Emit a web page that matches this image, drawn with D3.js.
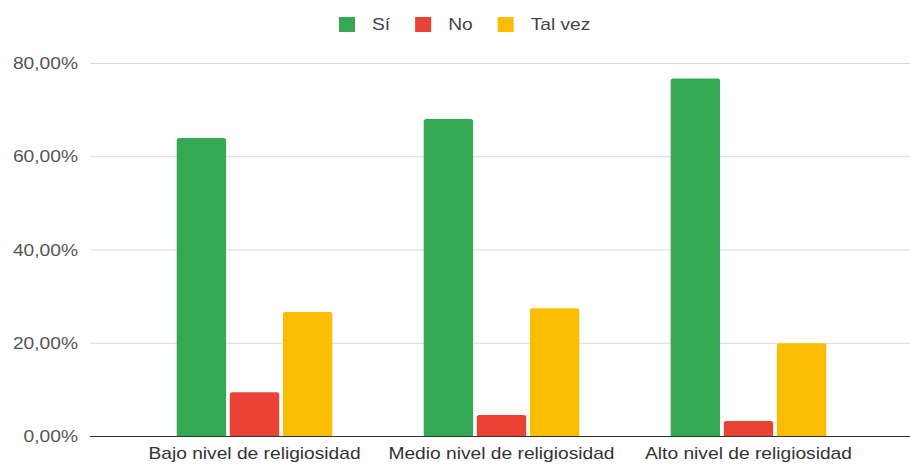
<!DOCTYPE html>
<html lang="es">
<head>
    <meta charset="UTF-8">
    <title>Religiosidad</title>
    <script src="https://d3js.org/d3.v7.min.js"></script>
    <style>
        body { margin: 0; background: #fff; }
        text { font-family: "Liberation Sans", Arial, sans-serif; }
    </style>
</head>
<body>
    <svg id="chart" width="910" height="464"></svg>

    <script>
        // Data
        const categories = ["Bajo nivel de religiosidad", "Medio nivel de religiosidad", "Alto nivel de religiosidad"];
        const seriesNames = ["Sí", "No", "Tal vez"];
        const si = [63.9, 68.0, 76.7];
        const no = [9.4, 4.5, 3.2];
        const talVez = [26.6, 27.4, 19.9];
        const yTicks = [0, 20, 40, 60, 80];
        const colors = ["#34a853", "#ea4335", "#fbbc04"];

        const values = [si, no, talVez];
        const rows = categories.map((c, i) => ({
            cat: c,
            vals: seriesNames.map((s, j) => ({ key: s, value: values[j][i] }))
        }));

        const svg = d3.select("#chart");
        const plotLeft = 92, plotRight = 911, plotTop = 63, plotBottom = 436;
        const sx = 1.2; // text looks horizontally stretched in the reference

        const x0 = d3.scaleBand().domain(categories).range([plotLeft, plotRight])
            .paddingInner(0.37).paddingOuter(0.343);
        const x1 = d3.scaleBand().domain(seriesNames).range([0, x0.bandwidth()])
            .paddingInner(0.07);
        const y = d3.scaleLinear().domain([0, 80]).range([plotBottom, plotTop]);
        const color = d3.scaleOrdinal().domain(seriesNames).range(colors);

        const fmt = v => d3.format(".2f")(v).replace(".", ",") + "%";

        // gridlines + y labels
        const yAxis = svg.append("g");
        yAxis.selectAll("line").data(yTicks.filter(d => d > 0)).enter().append("line")
            .attr("x1", 90).attr("x2", 910)
            .attr("y1", d => y(d) + 0.5).attr("y2", d => y(d) + 0.5)
            .attr("stroke", "#d9d9d9")
            .attr("stroke-width", 1);
        yAxis.selectAll("text").data(yTicks).enter().append("text")
            .attr("transform", d => `translate(78,${y(d) + 6}) scale(${sx},1)`)
            .attr("text-anchor", "end")
            .attr("font-size", 16)
            .attr("fill", "#555")
            .text(fmt);

        // bars with slightly rounded tops
        function barPath(x, yTop, w, h, r) {
            r = Math.min(r, h / 2, w / 2);
            return `M${x},${yTop + h}V${yTop + r}Q${x},${yTop} ${x + r},${yTop}` +
                `H${x + w - r}Q${x + w},${yTop} ${x + w},${yTop + r}V${yTop + h}Z`;
        }

        const groups = svg.append("g").selectAll("g").data(rows).enter().append("g")
            .attr("transform", d => `translate(${x0(d.cat)},0)`);
        groups.selectAll("path").data(d => d.vals).enter().append("path")
            .attr("d", d => barPath(x1(d.key), y(d.value), x1.bandwidth(), plotBottom - y(d.value), 2.5))
            .attr("fill", d => color(d.key));

        // baseline on top of bars
        svg.append("line")
            .attr("x1", 90).attr("x2", 910)
            .attr("y1", y(0) + 0.5).attr("y2", y(0) + 0.5)
            .attr("stroke", "#333");

        // x labels
        svg.append("g").selectAll("text").data(categories).enter().append("text")
            .attr("transform", d => `translate(${x0(d) + x0.bandwidth() / 2},459) scale(${sx},1)`)
            .attr("text-anchor", "middle")
            .attr("font-size", 16)
            .attr("fill", "#333")
            .text(d => d);

        // legend
        const legend = svg.append("g");
        let lx = 339;
        seriesNames.forEach(s => {
            legend.append("rect")
                .attr("x", lx).attr("y", 17).attr("width", 16).attr("height", 15)
                .attr("fill", color(s));
            const t = legend.append("text")
                .attr("transform", `translate(${lx + 33},30) scale(${sx},1)`)
                .attr("font-size", 16)
                .attr("fill", "#444")
                .text(s);
            lx += 33 + t.node().getComputedTextLength() * sx + 25;
        });
    </script>
</body>
</html>
